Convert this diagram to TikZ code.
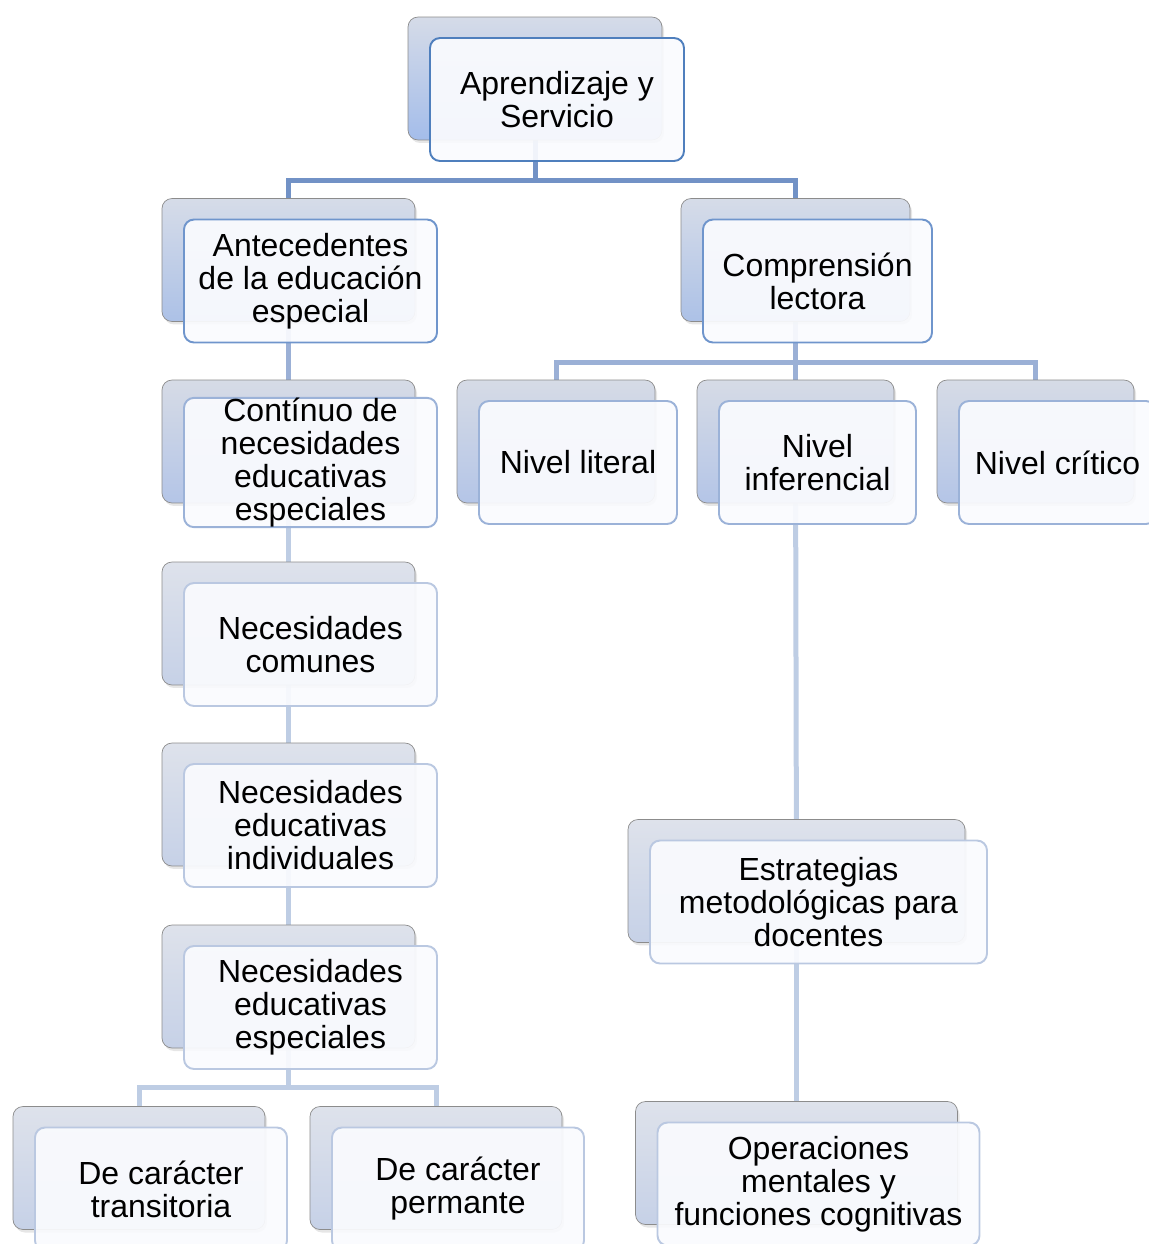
\documentclass[tikz,border=0pt]{standalone}
\usepackage{fontspec}
\setmainfont{Liberation Sans}
\usepackage{tikz}
\usetikzlibrary{shadows,backgrounds}

\definecolor{lineA}{RGB}{114,146,198}
\definecolor{lineB}{RGB}{155,176,214}
\definecolor{lineC}{RGB}{190,205,228}
\definecolor{edgeA}{RGB}{79,127,189}
\definecolor{edgeB}{RGB}{111,149,204}
\definecolor{edgeC}{RGB}{155,178,216}
\definecolor{edgeD}{RGB}{186,200,225}
\definecolor{topA}{RGB}{213,219,232}
\definecolor{botA}{RGB}{164,189,234}
\definecolor{topB}{RGB}{214,220,232}
\definecolor{botB}{RGB}{172,193,231}
\definecolor{topC}{RGB}{214,219,230}
\definecolor{botC}{RGB}{180,197,231}
\definecolor{topD}{RGB}{222,226,235}
\definecolor{botD}{RGB}{198,209,231}
\definecolor{frontfill}{RGB}{250,251,254}

\tikzset{
	back/.style={rounded corners=0.2cm,minimum height=2.46cm,inner sep=0pt,draw=black!45,line width=0.4pt,
		drop shadow={opacity=0.2,shadow xshift=0.04cm,shadow yshift=-0.06cm}},
	front/.style={rounded corners=0.2cm,minimum height=2.46cm,inner sep=0pt,align=center,
		fill=frontfill,fill opacity=0.93,text opacity=1,line width=1.1pt},
	backA/.style={back,top color=topA,bottom color=botA},
	backB/.style={back,top color=topB,bottom color=botB},
	backC/.style={back,top color=topC,bottom color=botC},
	backD/.style={back,top color=topD,bottom color=botD},
	frontA/.style={front,draw=edgeA},
	frontB/.style={front,draw=edgeB},
	frontC/.style={front,draw=edgeC},
	frontD/.style={front,draw=edgeD},
	link/.style={line width=0.1cm},
}

\newcommand{\pairbox}[6]{%
	\node[back#5,minimum width=#4*0.02cm] (#1) at (#2,#3) {};
	\node[front#5,minimum width=#4*0.02cm] (#1-f) at ([shift={(22,21)}]#1.center) {#6};
}

\begin{document}
\begin{tikzpicture}[x=0.02cm,y=-0.02cm,font=\fontsize{18.2}{18.8}\selectfont]
		\useasboundingbox (0,0) rectangle (1149,1244);

		\pairbox{root}{535}{78.5}{254}{A}{Aprendizaje y\\Servicio}
		\pairbox{ante}{288.5}{260}{253}{B}{Antecedentes\\de la educación\\especial}
		\pairbox{comp}{795.5}{260}{229}{B}{Comprensión\\lectora}
		\pairbox{cont}{288.5}{441.5}{253}{C}{Contínuo de\\necesidades\\educativas\\especiales}
		\pairbox{lit}{556}{441.5}{198}{C}{Nivel literal}
		\pairbox{inf}{795.5}{441.5}{197}{C}{Nivel\\inferencial}
		\pairbox{crit}{1035.5}{441.5}{197}{C}{Nivel crítico}
		\pairbox{comu}{288.5}{623.5}{253}{D}{Necesidades\\comunes}
		\pairbox{indiv}{288.5}{804.5}{253}{D}{Necesidades\\educativas\\individuales}
		\pairbox{espe}{288.5}{986.5}{253}{D}{Necesidades\\educativas\\especiales}
		\pairbox{trans}{139}{1168}{252}{D}{De carácter\\transitoria}
		\pairbox{perm}{436}{1168}{252}{D}{De carácter\\permante}
		\pairbox{estr}{796.5}{881}{337}{D}{Estrategias\\metodológicas para\\docentes}
		\pairbox{oper}{796.5}{1163}{322}{D}{Operaciones\\mentales y\\funciones cognitivas}

		\coordinate (busA) at (535,180);
		\coordinate (busB) at (795.5,362);
		\coordinate (busC) at (288.5,1087);

		\begin{scope}[on background layer]
			\draw[link,lineA] (root) -- (busA) -| (ante);
			\draw[link,lineA] (busA) -| (comp);
			\draw[link,lineB] (ante) -- (cont);
			\draw[link,lineB] (comp) -- (busB) -| (lit);
			\draw[link,lineB] (busB) -| (crit);
			\draw[link,lineB] (busB) -- (inf);
			\draw[link,lineC] (cont) -- (comu);
			\draw[link,lineC] (comu) -- (indiv);
			\draw[link,lineC] (indiv) -- (espe);
			\draw[link,lineC] (espe) -- (busC) -| (trans);
			\draw[link,lineC] (busC) -| (perm);
			\draw[link,lineC] (inf) -- (estr);
			\draw[link,lineC] (estr) -- (oper);
		\end{scope}
	\end{tikzpicture}
\end{document}
